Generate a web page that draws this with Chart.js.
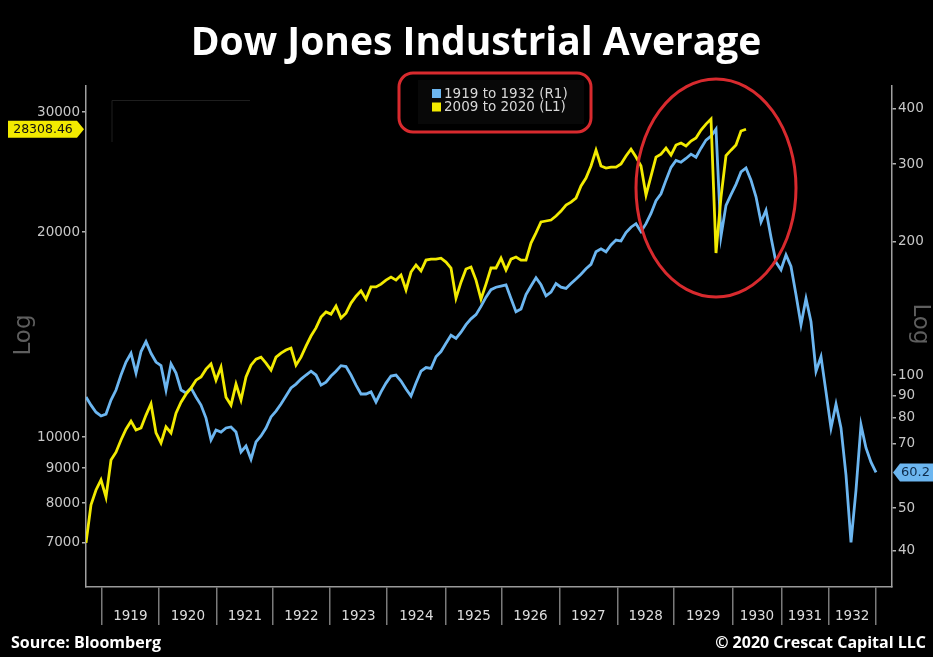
<!DOCTYPE html>
<html><head><meta charset="utf-8">
<script src="https://cdn.jsdelivr.net/npm/chart.js@4.4.0/dist/chart.umd.min.js"></script>
<style>html,body{margin:0;padding:0;background:#000;overflow:hidden}canvas{display:block}</style>
</head><body>
<canvas id="c" width="933" height="657"></canvas>
<script>
// ---- data ----
const yearLabels = ['1919','1920','1921','1922','1923','1924','1925','1926','1927','1928','1929','1930','1931','1932'];
// year boundaries in sample-index units of the x axis
const yearBounds = [3.14,14.6,26.14,37.4,48.8,60.2,71.94,83.14,94.66,106.26,117.6,129.26,139.14,148.46,158];
const leftTicks = [7000,8000,9000,10000,20000,30000];
const rightTicks = [40,50,70,80,90,100,200,300,400];
const blueLabel = '1919 to 1932 (R1)';
const yellowLabel = '2009 to 2020 (L1)';
const dow1919 = [89.2,85.5,82.4,80.8,81.6,87.8,92.5,100,107,112,
 101,113,119,112,107,105,92.5,106,101,92.5,
 91.1,93.5,89.2,85.5,79.9,71.3,75.1,74.3,75.9,76.3,
 74.3,67.0,69.1,64.5,70.6,72.8,75.9,80.4,82.9,86.0,
 89.6,93.5,95.4,97.9,100,102,100,94.9,96.4,99.5,
 102,105,104.5,100,94.9,90.6,90.6,91.6,86.9,91.6,
 95.9,99.5,100,96.9,93.0,89.6,95.9,102,104,103.5,
 110,113,118,123,121,125,130,134,137,143,
 150,156,158,159,160,149,139,141,152,159,
 166,160,151,154,161,158,157,161,165,169,
 174,178,190,193,190,197,202,201,210,216,
 220,211,220,232,248,257,276,295,306,303,
 309,316,311,326,340,347,360,206,242,256,
 270,288,294,276,253,222,236,205,180,173,
 187,176,152,130,149,132,102,110,91.6,75.9,
 86.0,75.9,59.4,41.8,54.9,77.1,68.4,63.5,60.2];
const dow2009 = [6990,7950,8360,8650,8160,9250,9500,9900,10270,10550,
 10240,10310,10770,11190,10140,9800,10350,10140,10840,11250,
 11560,11800,12120,12250,12580,12800,12120,12670,11440,11140,
 11960,11330,12250,12750,13010,13100,12840,12540,13100,13280,
 13420,13510,12750,13100,13600,14070,14460,15000,15260,15150,
 15570,14950,15200,15730,16100,16390,15940,16610,16610,16770,
 17000,17170,17000,17290,16440,17470,17890,17530,18190,18250,
 18250,18310,18070,17710,15990,16880,17650,17770,17000,15940,
 16770,17710,17710,18310,17590,18250,18380,18190,18190,19270,
 19940,20690,20760,20830,21110,21470,21910,22130,22430,23370,
 24000,25000,26380,25000,24830,24910,24910,25170,25860,26470,
 25770,25000,22660,24170,25770,26030,26560,25940,26840,27020,
 26750,27210,27490,28230,28810,29300,18630,22500,25900,26380,
 26840,28140,28308.46];

const BLUE = '#6cb6f0', YELLOW = '#f2ea00';
const TICKFONT = {family:'DejaVu Sans', size:13.5};

const deco = {
  id:'deco',
  beforeDraw(chart){
    const c = chart.ctx; c.save(); c.fillStyle='#000'; c.fillRect(0,0,chart.width,chart.height); c.restore();
  },
  afterDraw(chart){
    const c = chart.ctx, xs = chart.scales.x, yL = chart.scales.yL, yR = chart.scales.yR;
    c.save();
    // title
    c.fillStyle='#fff'; c.font='bold 39px "Open Sans"'; c.textAlign='center'; c.textBaseline='middle';
    c.fillText('Dow Jones Industrial Average', 476, 44);
    // year labels
    c.font='13.5px "DejaVu Sans"'; c.fillStyle='#dcdcdc';
    yearLabels.forEach((t,i)=>{
      const a = xs.getPixelForValue(yearBounds[i]), b = xs.getPixelForValue(yearBounds[i+1]);
      c.fillText(t,(a+b)/2,616);
    });
    // footers
    c.font='bold 16px "Open Sans"'; c.fillStyle='#fff';
    c.textAlign='left'; c.fillText('Source: Bloomberg', 11, 643);
    c.textAlign='right'; c.fillText('\u00A9 2020 Crescat Capital LLC', 926, 643);
    // Log labels
    c.fillStyle='#5e5e5e'; c.font='23px "DejaVu Sans"'; c.textAlign='center';
    c.save(); c.translate(24,335); c.rotate(-Math.PI/2); c.fillText('Log',0,0); c.restore();
    c.save(); c.translate(920,324); c.rotate(Math.PI/2); c.fillText('Log',0,0); c.restore();
    // faint empty box top-left
    c.strokeStyle='#1e1e1e'; c.lineWidth=1;
    c.beginPath(); c.moveTo(112,142); c.lineTo(112,100.5); c.lineTo(250,100.5); c.stroke();
    // last value labels
    const yv = dow2009[dow2009.length-1], bv = dow1919[dow1919.length-1];
    const py = yL.getPixelForValue(yv);
    c.fillStyle=YELLOW; c.beginPath();
    c.moveTo(8,py-8.5); c.lineTo(77,py-8.5); c.lineTo(84,py); c.lineTo(77,py+8.5); c.lineTo(8,py+8.5); c.closePath(); c.fill();
    c.fillStyle='#111'; c.font='12.5px "DejaVu Sans"'; c.textAlign='center';
    c.fillText(yv.toFixed(2),43,py+0.5);
    const pb = yR.getPixelForValue(bv);
    c.fillStyle=BLUE; c.beginPath();
    c.moveTo(893,pb); c.lineTo(900,pb-9); c.lineTo(933,pb-9); c.lineTo(933,pb+9); c.lineTo(900,pb+9); c.closePath(); c.fill();
    c.fillStyle='#0d2c4c'; c.textAlign='left'; c.font='13px "DejaVu Sans"';
    c.fillText(String(bv),901,pb+0.5);
    // legend
    c.fillStyle='#080808'; c.fillRect(418,80,166,44);
    const ds = chart.data.datasets;
    c.font='13.5px "DejaVu Sans"'; c.textAlign='left';
    [ds[0], ds[1]].forEach((d,i)=>{
      const cy = 93.5 + i*13.5;
      c.fillStyle=d.borderColor; c.fillRect(432,cy-4.5,9,9);
      c.fillStyle='#d8d8d8'; c.fillText(d.label,444,cy+0.5);
    });
    c.strokeStyle='#d82a2e'; c.lineWidth=3;
    c.beginPath(); c.roundRect(399,73,192,59,14); c.stroke();
    // red ellipse
    c.beginPath(); c.ellipse(716,188,80,109,0,0,Math.PI*2); c.stroke();
    c.restore();
  }
};

new Chart(document.getElementById('c'), {
  type:'line',
  data:{
    datasets:[
      {label:blueLabel, data:dow1919.map((v,i)=>({x:i,y:v})), yAxisID:'yR', borderColor:BLUE, backgroundColor:BLUE, borderWidth:2.8, pointRadius:0, tension:0, order:1},
      {label:yellowLabel, data:dow2009.map((v,i)=>({x:i,y:v})), yAxisID:'yL', borderColor:YELLOW, backgroundColor:YELLOW, borderWidth:2.8, pointRadius:0, tension:0, order:0}
    ]
  },
  options:{
    responsive:false, animation:false, devicePixelRatio:1,
    layout:{padding:{top:86,left:0,right:0,bottom:0}},
    plugins:{legend:{display:false}, tooltip:{enabled:false}, title:{display:false}},
    scales:{
      x:{type:'linear', position:'bottom', min:0, max:161.2,
        afterFit:s=>{s.height=70;},
        afterBuildTicks:s=>{s.ticks=yearBounds.map(v=>({value:v}));},
        ticks:{display:false},
        grid:{display:true, drawOnChartArea:false, drawTicks:true, tickLength:38, color:'#7a7a7a', lineWidth:1.5},
        border:{display:true, color:'#9a9a9a', width:1.5}},
      yL:{type:'logarithmic', position:'left', min:6022, max:32770,
        afterFit:s=>{s.width=86;},
        afterBuildTicks:s=>{s.ticks=leftTicks.map(v=>({value:v}));},
        ticks:{color:'#c8c8c8', font:TICKFONT, padding:2, autoSkip:false, callback:v=>String(v)},
        grid:{drawOnChartArea:false, drawTicks:true, tickLength:4, color:'#b0b0b0', lineWidth:1.5},
        border:{display:true, color:'#a0a0a0', width:1.5}},
      yR:{type:'logarithmic', position:'right', min:33.15, max:450.7,
        afterFit:s=>{s.width=41;},
        afterBuildTicks:s=>{s.ticks=rightTicks.map(v=>({value:v}));},
        ticks:{color:'#c8c8c8', font:TICKFONT, padding:2, autoSkip:false, callback:v=>String(v)},
        grid:{drawOnChartArea:false, drawTicks:true, tickLength:4, color:'#b0b0b0', lineWidth:1.5},
        border:{display:true, color:'#a0a0a0', width:1.5}}
    }
  },
  plugins:[deco]
});
</script>
</body></html>
